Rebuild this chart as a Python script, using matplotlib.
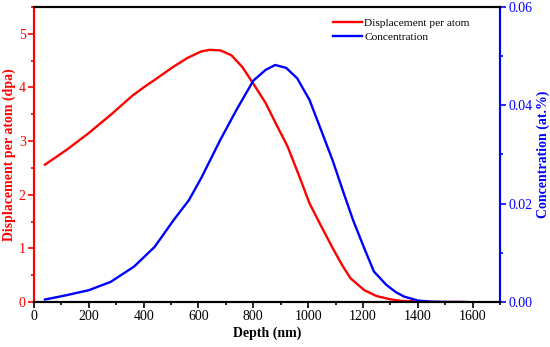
import numpy as np
import matplotlib.pyplot as plt
from matplotlib.ticker import MultipleLocator

# Displacement per atom (dpa) vs depth
dpa_depth = [40, 120, 200, 280, 360, 400, 440, 510, 560, 610, 640, 680, 720,
             760, 800, 845, 880, 925, 965, 1005, 1045, 1090, 1125, 1155, 1205,
             1250, 1300, 1340, 1400, 1450, 1500, 1560]
dpa_values = [2.56, 2.84, 3.15, 3.49, 3.85, 4.0, 4.14, 4.39, 4.55, 4.67, 4.70,
              4.69, 4.60, 4.38, 4.07, 3.71, 3.35, 2.90, 2.38, 1.84, 1.44, 1.0,
              0.68, 0.44, 0.22, 0.11, 0.05, 0.02, 0.01, 0.0, 0.0, 0.0]

# Concentration (at.%) vs depth
conc_depth = [40, 120, 200, 280, 365, 440, 510, 565, 610, 680, 740, 800, 845,
              880, 920, 960, 1005, 1045, 1090, 1130, 1165, 1205, 1240, 1285,
              1320, 1350, 1400, 1440, 1500, 1580]
conc_values = [0.0005, 0.0014, 0.0024, 0.0041, 0.0072, 0.0112, 0.0167, 0.0207,
               0.0252, 0.0330, 0.0392, 0.0450, 0.0472, 0.0482, 0.0476, 0.0455,
               0.0411, 0.0353, 0.0287, 0.0221, 0.0165, 0.0109, 0.0062, 0.0035,
               0.0020, 0.0011, 0.0003, 0.0001, 0.0, 0.0]

plt.rcParams['font.family'] = ['Liberation Serif', 'DejaVu Serif']

fig = plt.figure(figsize=(5.5, 3.47), dpi=100)
ax = fig.add_axes([0.0618, 0.1297, 0.8473, 0.8503])
ax2 = ax.twinx()

l1, = ax.plot(dpa_depth, dpa_values, color='#ff0000', lw=1.7,
              label='Displacement per atom')
l2, = ax2.plot(conc_depth, conc_values, color='#0000ff', lw=1.7,
               label='Concentration')

ax.set_xlim(0, 1700)
ax.set_ylim(0, 5.5)
ax2.set_ylim(0, 0.06)

ax.xaxis.set_major_locator(MultipleLocator(200))
ax.xaxis.set_minor_locator(MultipleLocator(100))
ax.yaxis.set_major_locator(MultipleLocator(1))
ax.yaxis.set_minor_locator(MultipleLocator(0.5))
ax2.yaxis.set_major_locator(MultipleLocator(0.02))
ax2.yaxis.set_minor_locator(MultipleLocator(0.01))
ax2.yaxis.set_major_formatter(plt.FormatStrFormatter('%.2f'))

ax.set_xlabel('Depth (nm)', fontsize=10, fontweight='bold', labelpad=2)
ax.set_ylabel('Displacement per atom (dpa)', fontsize=10, fontweight='bold',
              color='#ff0000', labelpad=2)
ax2.set_ylabel('Concentration (at.%)', fontsize=10, fontweight='bold',
               color='#0000ff', labelpad=3)

for a in (ax, ax2):
    for s in a.spines.values():
        s.set_linewidth(1.5)
ax2.spines['left'].set_color('#ff0000')
ax2.spines['right'].set_color('#0000ff')
ax.spines['left'].set_color('#ff0000')
ax.spines['right'].set_color('#0000ff')

ax.tick_params(axis='x', which='major', direction='out', length=4, width=1.2,
               labelsize=10, pad=2)
ax.tick_params(axis='x', which='minor', direction='out', length=2.5, width=1.2)
ax.tick_params(axis='y', which='both', colors='#ff0000', labelsize=10, width=1.2)
ax.tick_params(axis='y', which='major', length=4, pad=2)
ax.tick_params(axis='y', which='minor', length=2.5)
ax2.tick_params(axis='y', which='both', colors='#0000ff', labelsize=10, width=1.2)
ax2.tick_params(axis='y', which='major', length=4, pad=2)
ax2.tick_params(axis='y', which='minor', length=2.5)

ax.legend(handles=[l1, l2], loc='upper right', bbox_to_anchor=(0.935, 0.961),
          frameon=False, fontsize=8.2, handlelength=2.5, handletextpad=0.2,
          borderpad=0, borderaxespad=0, labelspacing=0.3)

fig.savefig('out.png', dpi=100)
